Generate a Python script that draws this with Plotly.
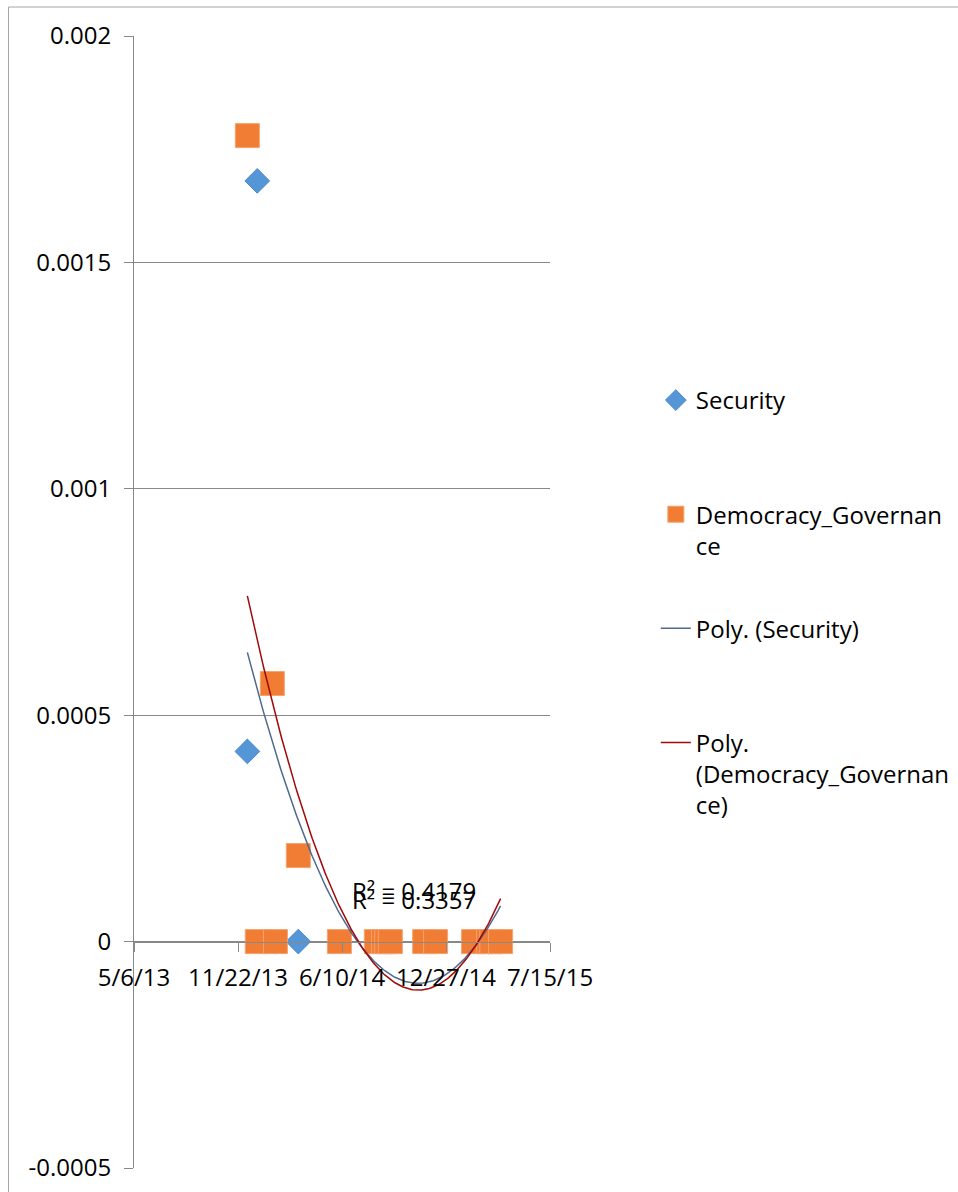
import numpy as np
import pandas as pd
import plotly.graph_objects as go

# Observation dates shared by both series
dates = ["2013-12-10", "2013-12-29", "2014-01-27", "2014-02-02", "2014-03-18",
         "2014-06-05", "2014-08-15", "2014-08-29", "2014-09-04", "2014-09-11",
         "2014-11-16", "2014-12-07", "2015-02-18", "2015-03-19", "2015-03-25",
         "2015-04-11"]
security = [0.00042, 0.00168, 0, 0, 0, 0, 0, 0, 0, 0, 0, 0, 0, 0, 0, 0]
democracy = [0.00178, 0, 0.00057, 0, 0.00019, 0, 0, 0, 0, 0, 0, 0, 0, 0, 0, 0]

r2_labels = ["R² = 0.4179", "R² = 0.3357"]

x_ticks = ["2013-05-06", "2013-11-22", "2014-06-10", "2014-12-27", "2015-07-15"]
x_tick_text = ["5/6/13", "11/22/13", "6/10/14", "12/27/14", "7/15/15"]
y_ticks = [-0.0005, 0, 0.0005, 0.001, 0.0015, 0.002]
y_tick_text = ["-0.0005", "0", "0.0005", "0.001", "0.0015", "0.002"]

FONT = "Open Sans"
GRID = "#888888"

dt = pd.to_datetime(dates)
origin = dt.min()
days = np.array([(d - origin).days for d in dt], dtype=float)


def poly_trend(values):
    """Second-order least-squares trend evaluated across the data span."""
    coef = np.polyfit(days, np.array(values, dtype=float), 2)
    xs = np.linspace(days.min(), days.max(), 200)
    return origin + pd.to_timedelta(xs, unit="D"), np.polyval(coef, xs)


sec_x, sec_y = poly_trend(security)
dem_x, dem_y = poly_trend(democracy)

pad = "<br>\u00a0"
fig = go.Figure()
fig.add_trace(go.Scatter(
    x=dt, y=security, mode="markers", name="Security" + pad + pad,
    legendgroup="a",
    marker=dict(symbol="diamond", size=19, color="#5597D6",
                line=dict(color="#4A8ACB", width=1))))
fig.add_trace(go.Scatter(
    x=dt, y=democracy, mode="markers",
    name="Democracy_Governan<br>ce" + pad, legendgroup="b",
    marker=dict(symbol="square", size=24, color="#F07D33",
                line=dict(color="#F5A370", width=1))))
fig.add_trace(go.Scatter(
    x=sec_x, y=sec_y, mode="lines", name="Poly. (Security)" + pad + pad,
    legendgroup="c", line=dict(color="#50698C", width=1.5)))
fig.add_trace(go.Scatter(
    x=dem_x, y=dem_y, mode="lines",
    name="Poly.<br>(Democracy_Governan<br>ce)", legendgroup="d",
    line=dict(color="#A00A0A", width=1.5)))

# R² labels for the two trend lines
r2_x = "2014-10-26"
for txt, yv in zip(r2_labels, [0.000112, 0.000094]):
    fig.add_annotation(x=r2_x, y=yv, text=txt, showarrow=False,
                       font=dict(family=FONT, size=24, color="black"))

# Chart-area border
fig.add_shape(type="rect", xref="paper", yref="paper",
              x0=(8.5 - 134) / 416, x1=2.0,
              y0=-0.05, y1=(1168 - 7) / 1132,
              line=dict(color="#A6A6A6", width=1), layer="below")

fig.update_layout(
    width=958, height=1192, autosize=False,
    margin=dict(l=134, r=408, t=36, b=24, autoexpand=False),
    plot_bgcolor="white", paper_bgcolor="white",
    font=dict(family=FONT, size=24, color="black"),
    showlegend=True,
    legend=dict(x=1.2544, xanchor="left", y=(1168 - 378) / 1132, yanchor="top",
                valign="top", tracegroupgap=17.5,
                font=dict(family=FONT, size=24, color="black"),
                bgcolor="rgba(0,0,0,0)"),
    xaxis=dict(
        type="date", range=[x_ticks[0], x_ticks[-1]],
        tickmode="array", tickvals=x_ticks, ticktext=x_tick_text,
        anchor="free", position=0.2,
        showline=True, linecolor=GRID, linewidth=1,
        ticks="outside", ticklen=9, tickcolor=GRID,
        ticklabelstandoff=6,
        showgrid=False, zeroline=False,
        tickfont=dict(family=FONT, size=24, color="black")),
    yaxis=dict(
        range=[-0.0005, 0.002], tickmode="array",
        tickvals=y_ticks, ticktext=y_tick_text,
        showline=True, linecolor=GRID, linewidth=1,
        ticks="outside", ticklen=9, tickcolor=GRID,
        ticklabelstandoff=8,
        showgrid=True, gridcolor=GRID, gridwidth=1, zeroline=False,
        tickfont=dict(family=FONT, size=24, color="black")),
)

fig.write_html("out.html")
